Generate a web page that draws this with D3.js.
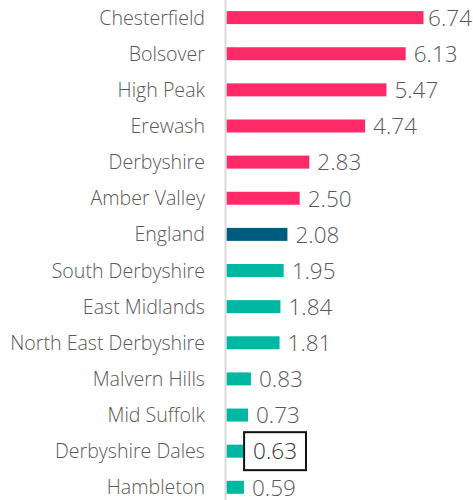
<!DOCTYPE html>
<html><head><meta charset="utf-8">
<script src="https://cdn.jsdelivr.net/npm/d3@7"></script>
<style>body{margin:0;background:#fff}svg{display:block}</style>
</head><body>
<svg id="c" width="473" height="500"></svg>
<script>
const categories = ["Chesterfield","Bolsover","High Peak","Erewash","Derbyshire","Amber Valley","England","South Derbyshire","East Midlands","North East Derbyshire","Malvern Hills","Mid Suffolk","Derbyshire Dales","Hambleton"];
const values = [6.74,6.13,5.47,4.74,2.83,2.50,2.08,1.95,1.84,1.81,0.83,0.73,0.63,0.59];
const groups = ["high","high","high","high","high","high","england","low","low","low","low","low","low","low"];
const highlighted = "Derbyshire Dales";
const colors = {high:"#FF2A68", england:"#005C7E", low:"#00B8A1"};

const svg = d3.select("#c");
const W = 473;
const x0 = 226.7;
const x = d3.scaleLinear().domain([0, 6.74]).range([x0, 423.5]);
const y = d3.scalePoint().domain(categories).range([17.6, 487.3]);
const barH = 13;
const font = "'Segoe UI','Open Sans','Noto Sans',sans-serif";

// axis line
svg.append("line").attr("x1", 225.5).attr("x2", 225.5).attr("y1", 0).attr("y2", 500)
  .attr("stroke", "#d9d9d9").attr("stroke-width", 2);

const data = categories.map((c,i)=>({c, v:values[i], g:groups[i]}));

svg.selectAll("rect.bar").data(data).join("rect").attr("class","bar")
  .attr("x", x0).attr("y", d=>y(d.c)-barH/2)
  .attr("width", d=>x(d.v)-x0).attr("height", barH)
  .attr("fill", d=>colors[d.g]);

svg.selectAll("text.cat").data(data).join("text").attr("class","cat")
  .attr("x", 205).attr("y", d=>y(d.c)).attr("dy","0.36em")
  .attr("text-anchor","end").attr("font-family", font).attr("font-weight",300)
  .attr("font-size", 19.6).attr("fill","#595959").text(d=>d.c);

const vals = svg.selectAll("text.val").data(data).join("text").attr("class","val")
  .attr("y", d=>y(d.c)).attr("dy","0.37em")
  .attr("font-family", font).attr("font-weight",300)
  .attr("font-size", 22.5).attr("fill", d=>d.c===highlighted?"#333":"#595959")
  .text(d=>d.v.toFixed(2));

vals.each(function(d){
  const w = this.getComputedTextLength();
  let tx = x(d.v) + 8;
  if (tx + w > W - 1) tx = W - 1 - w;
  d3.select(this).attr("x", tx);
  if (d.c === highlighted) {
    svg.append("rect").attr("x", tx-9).attr("y", y(d.c)-19)
      .attr("width", w+18).attr("height", 38)
      .attr("fill","#fff").attr("stroke","#111").attr("stroke-width",2);
    this.parentNode.appendChild(this);
  }
});
</script>
</body></html>
